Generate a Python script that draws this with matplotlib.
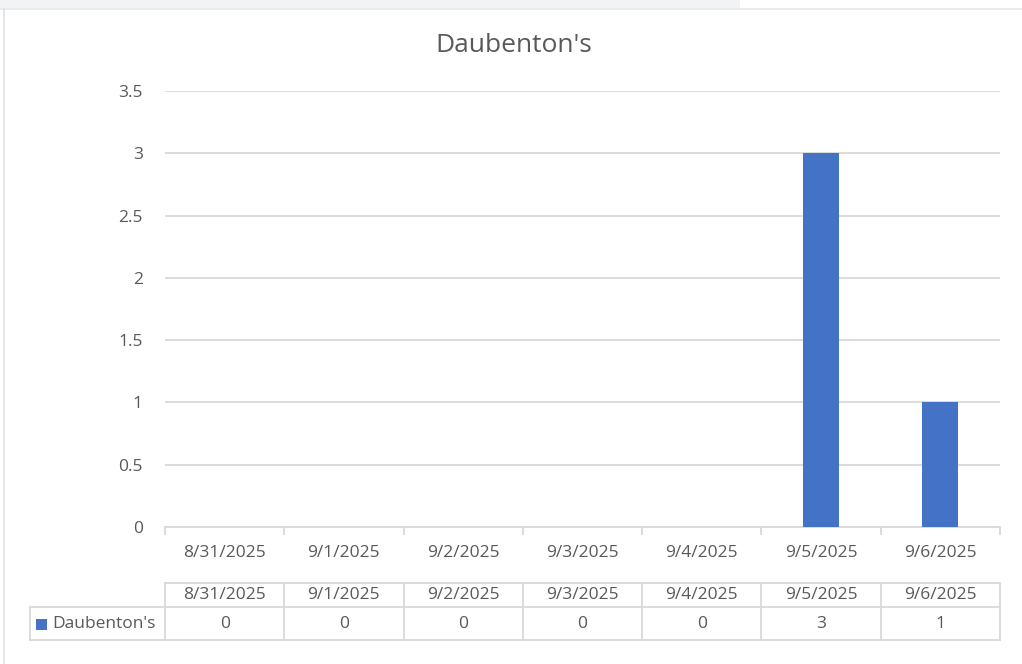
import matplotlib.pyplot as plt
from matplotlib.lines import Line2D
from matplotlib.patches import Rectangle
import matplotlib.transforms as mtransforms

dates = ['8/31/2025', '9/1/2025', '9/2/2025', '9/3/2025', '9/4/2025', '9/5/2025', '9/6/2025']
counts = [0, 0, 0, 0, 0, 3, 1]
series_name = "Daubenton's"
yticks = [0, 0.5, 1, 1.5, 2, 2.5, 3, 3.5]

W, H = 1022, 664
txt = '#595959'
grid = '#d9d9d9'
bar_color = '#4472c4'
fs = 12.5
plt.rcParams['font.family'] = ['Open Sans', 'DejaVu Sans']

fig = plt.figure(figsize=(W / 100, H / 100), dpi=100)


def fx(px):
    return px / W


def fy(py):
    return 1 - py / H


# page background borders like the screenshot
fig.add_artist(Rectangle((0, fy(8)), fx(740), 8 / H, color='#f2f3f5', lw=0))
fig.add_artist(Line2D([0, 1], [fy(9), fy(9)], color='#e6e6e6', lw=1.2))
fig.add_artist(Line2D([fx(4), fx(4)], [0, fy(9)], color='#e0e0e0', lw=1.2))

ax = fig.add_axes([fx(165), fy(527), fx(1000) - fx(165), fy(91) - fy(527)])
x = list(range(len(dates)))
ax.bar(x, counts, width=0.3, color=bar_color, zorder=3)
ax.set_xlim(-0.5, len(dates) - 0.5)
ax.set_ylim(0, 3.5)
ax.set_yticks(yticks)
ax.set_yticklabels([f'{v:g}' for v in yticks], color=txt, fontsize=fs)
ax.grid(axis='y', color=grid, lw=1.3, zorder=0)
ax.tick_params(axis='y', length=0, pad=16)
ax.set_xticks([i - 0.5 for i in range(len(dates) + 1)])
ax.set_xticklabels([])
ax.tick_params(axis='x', length=6, color=grid, width=1.3)
for s in ['top', 'right', 'left']:
    ax.spines[s].set_visible(False)
ax.spines['bottom'].set_color(grid)
ax.spines['bottom'].set_linewidth(1.3)
trans = mtransforms.blended_transform_factory(ax.transData, fig.transFigure)
for i, d in enumerate(dates):
    ax.text(i, fy(553), d, transform=trans, ha='center', va='center', color=txt, fontsize=fs)

fig.text(fx(514), fy(45), series_name, ha='center', va='center', color=txt, fontsize=19)

# data table below the chart
tab = fig.add_axes([fx(165), fy(640), fx(1000) - fx(165), fy(583) - fy(640)])
tab.set_xlim(-0.5, len(dates) - 0.5)
tab.set_ylim(640, 583)
tab.axis('off')
lc = dict(color=grid, lw=1.3, clip_on=False)
col_px = (1000 - 165) / len(dates)
left_cell = -0.5 - (165 - 30) / col_px
tab.plot([-0.5, len(dates) - 0.5], [583, 583], **lc)
tab.plot([left_cell, len(dates) - 0.5], [640, 640], **lc)
tab.plot([left_cell, len(dates) - 0.5], [607, 607], **lc)
tab.plot([left_cell, left_cell], [607, 640], **lc)
for i in range(len(dates) + 1):
    tab.plot([i - 0.5, i - 0.5], [583, 640], **lc)
for i, (d, c) in enumerate(zip(dates, counts)):
    tab.text(i, 595, d, ha='center', va='center', color=txt, fontsize=fs)
    tab.text(i, 624, str(c), ha='center', va='center', color=txt, fontsize=fs)
tab.add_patch(Rectangle((left_cell + 6 / col_px, 618.5), 11 / col_px, 11,
                        color=bar_color, lw=0, clip_on=False))
tab.text(left_cell + 22 / col_px, 624, series_name, ha='left', va='center', color=txt, fontsize=fs)

fig.savefig('out.png', dpi=100)
